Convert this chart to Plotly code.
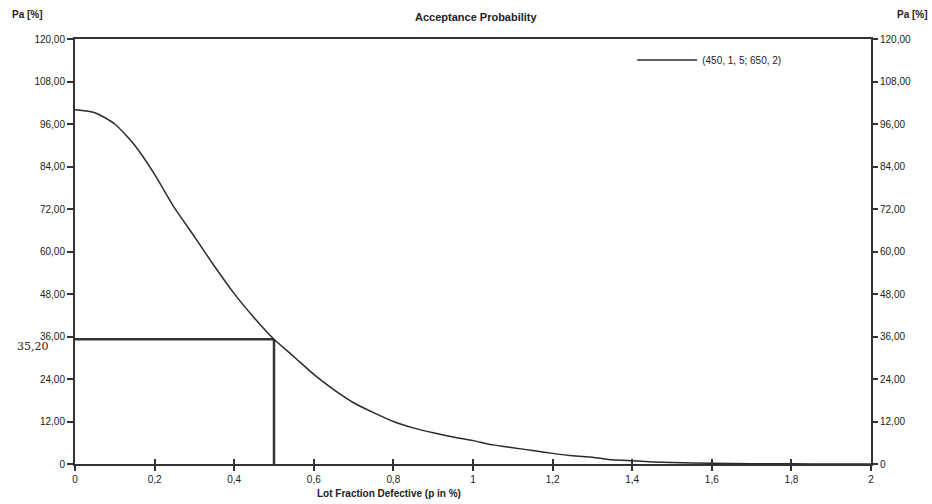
import plotly.graph_objects as go

# ---- data ----
p_values = [0, 0.05, 0.1, 0.15, 0.2, 0.25, 0.3, 0.35, 0.4, 0.45, 0.5, 0.55, 0.6, 0.65,
            0.7, 0.75, 0.8, 0.85, 0.9, 0.95, 1.0, 1.05, 1.1, 1.15, 1.2, 1.25, 1.3, 1.35,
            1.4, 1.45, 1.5, 1.6, 1.7, 1.8, 1.9, 2.0]
pa_values = [100.0, 99.2, 96.0, 90.0, 81.8, 72.3, 64.2, 55.9, 48.1, 41.3, 35.2, 30.3, 25.3, 21.0,
             17.3, 14.5, 12.0, 10.2, 8.8, 7.6, 6.6, 5.4, 4.6, 3.8, 3.0, 2.3, 1.9, 1.2,
             0.9, 0.6, 0.4, 0.2, 0.1, 0.05, 0.02, 0.01]
series_name = "(450, 1, 5; 650, 2)"

p_ref = 0.5
pa_ref = 35.20
ref_label = "35,20"

y_tickvals = [0, 12, 24, 36, 48, 60, 72, 84, 96, 108, 120]
y_ticktext = ["0", "12,00", "24,00", "36,00", "48,00", "60,00", "72,00", "84,00", "96,00", "108,00", "120,00"]
x_tickvals = [0, 0.2, 0.4, 0.6, 0.8, 1.0, 1.2, 1.4, 1.6, 1.8, 2.0]
x_ticktext = ["0", "0,2", "0,4", "0,6", "0,8", "1", "1,2", "1,4", "1,6", "1,8", "2"]

INK = "#222222"
FONT = "Liberation Sans, Arial, sans-serif"

fig = go.Figure()

# reference lines
fig.add_trace(go.Scatter(x=[0, p_ref], y=[pa_ref, pa_ref], mode="lines",
                         line=dict(color="#333333", width=2.5), showlegend=False, hoverinfo="skip"))
fig.add_trace(go.Scatter(x=[p_ref, p_ref], y=[0, pa_ref], mode="lines",
                         line=dict(color="#333333", width=2.5), showlegend=False, hoverinfo="skip"))

# OC curve
fig.add_trace(go.Scatter(x=p_values, y=pa_values, mode="lines", name=series_name,
                         line=dict(color="#2a2a2a", width=1.5, shape="spline", smoothing=0.6)))

# invisible trace for right axis / inside ticks
fig.add_trace(go.Scatter(x=p_values, y=pa_values, mode="lines", xaxis="x2", yaxis="y2",
                         line=dict(color="rgba(0,0,0,0)", width=0), showlegend=False, hoverinfo="skip"))

fig.update_layout(
    width=932, height=504,
    margin=dict(l=75, r=61, t=39, b=40),
    paper_bgcolor="white", plot_bgcolor="white",
    font=dict(family=FONT, size=10, color=INK),
    xaxis=dict(range=[0, 2], tickvals=x_tickvals, ticktext=x_ticktext,
               showgrid=False, zeroline=False, showline=True, linecolor="#333333", linewidth=2,
               mirror=True, ticks="outside", ticklen=5, tickwidth=1.5, tickcolor="#333333",
               tickfont=dict(size=10, color=INK, family=FONT)),
    xaxis2=dict(range=[0, 2], overlaying="x", side="bottom", tickvals=x_tickvals,
                showticklabels=False, showgrid=False, zeroline=False, showline=False,
                ticks="inside", ticklen=5, tickwidth=1.5, tickcolor="#333333"),
    yaxis=dict(range=[0, 120], tickvals=y_tickvals, ticktext=y_ticktext,
               showgrid=False, zeroline=False, showline=True, linecolor="#333333", linewidth=2,
               mirror=True, ticks="outside", ticklen=6, tickwidth=1.5, tickcolor="#333333",
               tickfont=dict(size=10, color=INK, family=FONT)),
    yaxis2=dict(range=[0, 120], overlaying="y", side="right", tickvals=y_tickvals, ticktext=y_ticktext,
                showgrid=False, zeroline=False, showline=False,
                ticks="outside", ticklen=6, tickwidth=1.5, tickcolor="#333333",
                tickfont=dict(size=10, color=INK, family=FONT)),
    legend=dict(x=0.70, y=0.985, xanchor="left", yanchor="top", bgcolor="rgba(0,0,0,0)",
                itemwidth=60, font=dict(size=10, color=INK, family=FONT)),
    showlegend=True,
)

annotations = [
    dict(text="<b>Acceptance Probability</b>", xref="paper", yref="paper", x=0.505, y=1.0,
         yshift=22, xanchor="center", yanchor="middle", showarrow=False,
         font=dict(size=11, color=INK, family=FONT)),
    dict(text="<b>Pa [%]</b>", xref="paper", yref="paper", x=0, y=1.0, xshift=-65, yshift=25,
         xanchor="left", yanchor="middle", showarrow=False, font=dict(size=10, color=INK, family=FONT)),
    dict(text="<b>Pa [%]</b>", xref="paper", yref="paper", x=1.0, y=1.0, xshift=24, yshift=25,
         xanchor="left", yanchor="middle", showarrow=False, font=dict(size=10, color=INK, family=FONT)),
    dict(text="<b>Lot Fraction Defective (p in %)</b>", xref="paper", yref="paper", x=0.394, y=0,
         yshift=-29, xanchor="center", yanchor="middle", showarrow=False,
         font=dict(size=10, color=INK, family=FONT)),
    dict(text=ref_label, xref="paper", yref="y", x=0, y=pa_ref, xshift=-60, yshift=-7,
         xanchor="left", yanchor="middle", showarrow=False,
         font=dict(size=11, color=INK, family="DejaVu Serif, serif")),
]
fig.update_layout(annotations=annotations)

fig.write_html("out.html")
